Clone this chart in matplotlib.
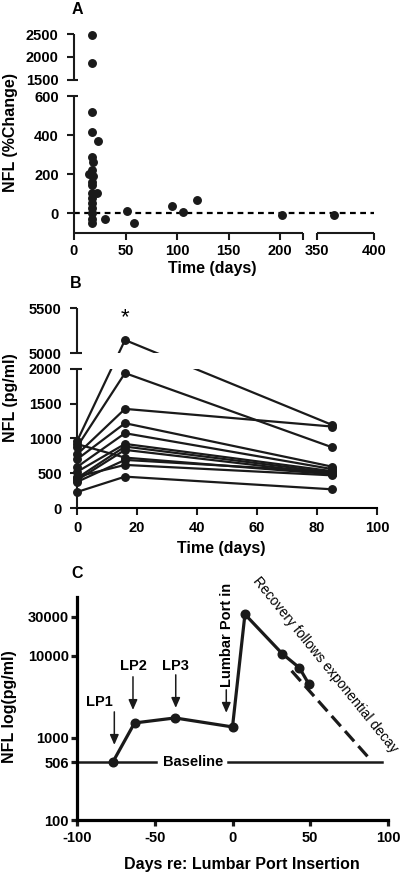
"""
NFL 패널 A/B/C 재현
"""
import numpy as np
import matplotlib
matplotlib.use('Agg')
import matplotlib.pyplot as plt
from matplotlib.ticker import NullLocator

plt.rcParams['font.family'] = ['Liberation Sans', 'DejaVu Sans']
plt.rcParams['font.weight'] = 'bold'
plt.rcParams['axes.labelweight'] = 'bold'
plt.rcParams['axes.unicode_minus'] = False

# ---- data ----
# A: % change vs time
days_a = [17, 17, 17, 17, 23, 17, 18, 17, 15, 18, 17, 17, 17, 22, 17, 17, 17, 17, 17, 17,
          30, 51, 58, 95, 106, 119, 202, 365]
pct_a = [2480, 1870, 518, 415, 369, 287, 262, 220, 200, 190, 160, 144, 103, 103, 77, 51, 26, 0, -26, -51,
         -26, 10, -51, 36, 5, 67, -10, -10]

# B: per-subject NFL at three visits
days_b = [0, 16, 85]
nfl_b = [
    [960, 5144, 1196],
    [880, 1941, 874],
    [770, 1426, 1172],
    [700, 1220, 595],
    [590, 1076, 560],
    [520, 922, 530],
    [430, 884, 509],
    [400, 836, 490],
    [920, 725, 485],
    [375, 692, 520],
    [450, 620, 470],
    [230, 451, 269],
]

# C: single case, log scale
days_c = [-77, -63, -37, 0, 8, 32, 43, 49]
nfl_c = [506, 1520, 1750, 1360, 32000, 10600, 7150, 4560]
decay_days = [38, 87]
decay_vals = [6560, 590]
baseline = 506
lp_labels = ['LP1', 'LP2', 'LP3']
lp_days = [-76, -64, -36.5, -4]
lp_top = [2075, 5550, 5860, 3850]
lp_bot = [822, 2190, 2320, 2020]

W, H = 400, 874
TICK_FS = 10.5


def box(x0, y0, x1, y1):
    return [x0 / W, 1 - y1 / H, (x1 - x0) / W, (y1 - y0) / H]


def ftext(x, y, s, **kw):
    fig.text(x / W, 1 - y / H, s, ha='center', va='center', **kw)


def brk(lo, hi, gap, r):
    def fwd(v):
        v = np.asarray(v, float)
        mid = lo + (v - lo) * gap / (hi - lo)
        return np.where(v <= lo, v, np.where(v >= hi, lo + gap + (v - hi) * r, mid))

    def inv(t):
        t = np.asarray(t, float)
        mid = lo + (t - lo) * (hi - lo) / gap
        return np.where(t <= lo, t, np.where(t >= lo + gap, hi + (t - lo - gap) / r, mid))
    return fwd, inv


fig = plt.figure(figsize=(W / 100, H / 100), dpi=100)

# ---------------- A ----------------
ax = fig.add_axes(box(74, 34, 374, 233))
ax.set_xscale('function', functions=brk(222, 350, 13.6, 1.107))
ax.set_yscale('function', functions=brk(600, 1500, 81.8, 0.235))
ax.set_xlim(0, 400)
ax.set_ylim(-100, 2500)
ax.axhline(0, color='k', lw=1.6, ls=(0, (2.6, 2.0)), zorder=1)
ax.plot(days_a, pct_a, 'o', color='#1a1a1a', ms=5.4, clip_on=False, zorder=3)
for s in ax.spines.values():
    s.set_visible(False)
yt = ax.get_yaxis_transform()
xt = ax.get_xaxis_transform()
kw = dict(color='#1a1a1a', lw=1.5, clip_on=False, solid_capstyle='butt', zorder=5)
ax.plot([0, 0], [-100, 600], transform=yt, **kw)
ax.plot([0, 0], [1500, 2500], transform=yt, **kw)
ax.plot([0, 0.014], [600, 600], transform=yt, **kw)
ax.plot([0, 0.014], [1500, 1500], transform=yt, **kw)
ax.plot([0, 222], [0, 0], transform=xt, **kw)
ax.plot([350, 400], [0, 0], transform=xt, **kw)
ax.set_xticks([0, 50, 100, 150, 200, 222, 350, 400],
              ['0', '50', '100', '150', '200', '', '350', '400'])
ax.set_yticks([0, 200, 400, 600, 1500, 2000, 2500])
ax.tick_params(direction='out', length=5, width=1.5, labelsize=TICK_FS, pad=3, color='#1a1a1a')
ax.tick_params(axis='y', pad=6)
ax.xaxis.set_minor_locator(NullLocator())
ax.yaxis.set_minor_locator(NullLocator())
ftext(77, 9, 'A', fontsize=11.5)
ftext(212, 269, 'Time (days)', fontsize=11.5)
ftext(11, 132, 'NFL (%Change)', fontsize=11.5, rotation=90)

# ---------------- B ----------------
ax = fig.add_axes(box(77, 308, 377, 508))
ax.set_yscale('function', functions=brk(2000, 5000, 230, 1.295))
ax.set_xlim(0, 100)
ax.set_ylim(0, 5500)
for row in nfl_b:
    ax.plot(days_b, row, '-o', color='#1a1a1a', lw=1.6, ms=5.4, clip_on=False, zorder=2)
ax.axhspan(2000, 5000, color='white', lw=0, zorder=3)
for s in ['left', 'top', 'right']:
    ax.spines[s].set_visible(False)
ax.spines['bottom'].set_linewidth(1.5)
yt = ax.get_yaxis_transform()
ax.plot([0, 0], [0, 2000], transform=yt, **kw)
ax.plot([0, 0], [5000, 5500], transform=yt, **kw)
ax.plot([0, 0.015], [2000, 2000], transform=yt, **kw)
ax.plot([0, 0.015], [5000, 5000], transform=yt, **kw)
ax.set_xticks([0, 20, 40, 60, 80, 100])
ax.set_yticks([0, 500, 1000, 1500, 2000, 5000, 5500])
ax.tick_params(direction='out', length=5, width=1.5, labelsize=TICK_FS, pad=4, color='#1a1a1a')
ax.tick_params(axis='y', pad=6)
ax.yaxis.set_minor_locator(NullLocator())
ftext(76, 283, 'B', fontsize=11.5)
ftext(221, 548, 'Time (days)', fontsize=11.5)
ftext(11, 398, 'NFL (pg/ml)', fontsize=11.5, rotation=90)
ftext(125, 318, '*', fontsize=16, fontweight='normal')

# ---------------- C ----------------
ax = fig.add_axes(box(77, 597, 388, 820))
ax.set_yscale('log')
ax.set_xlim(-100, 100)
ax.set_ylim(100, 52000)
ax.plot(days_c, nfl_c, '-o', color='#1a1a1a', lw=2.3, ms=6.2, zorder=3)
dl, = ax.plot(decay_days, decay_vals, color='#1a1a1a', lw=2.3, zorder=2)
dl.set_dashes((4.3, 2.0))
ax.plot([-100, -49], [baseline, baseline], color='#1a1a1a', lw=1.8, clip_on=False)
ax.plot([-3, 96], [baseline, baseline], color='#1a1a1a', lw=1.8)
ax.text(-25.5, baseline, 'Baseline', ha='center', va='center', fontsize=10.5)
for d, t, b in zip(lp_days, lp_top, lp_bot):
    ax.annotate('', xy=(d, b), xytext=(d, t),
                arrowprops=dict(arrowstyle='-|>,head_length=0.5,head_width=0.22',
                                color='#1a1a1a', lw=1.1, mutation_scale=12, shrinkA=0, shrinkB=0))
ax.text(-85.5, 2750, lp_labels[0], ha='center', va='center', fontsize=10.5)
ax.text(-64, 7550, lp_labels[1], ha='center', va='center', fontsize=10.5)
ax.text(-36.5, 7550, lp_labels[2], ha='center', va='center', fontsize=10.5)
ax.text(-3.5, 18000, 'Lumbar Port in', ha='center', va='center', fontsize=10.5, rotation=90)
for s in ['top', 'right']:
    ax.spines[s].set_visible(False)
for s in ['left', 'bottom']:
    ax.spines[s].set_linewidth(2.3)
ax.set_xticks([-100, -50, 0, 50, 100])
ax.set_yticks([100, 506, 1000, 10000, 30000], ['100', '506', '1000', '10000', '30000'])
ax.yaxis.set_minor_locator(NullLocator())
ax.tick_params(direction='out', length=4, width=2.3, labelsize=TICK_FS, pad=4, color='#1a1a1a')
ax.tick_params(axis='y', pad=2)
ftext(77, 573, 'C', fontsize=11.5)
ftext(242, 865, 'Days re: Lumbar Port Insertion', fontsize=11.5)
ftext(10, 707, 'NFL log(pg/ml)', fontsize=11.5, rotation=90)
ftext(325, 665, 'Recovery follows exponential decay', fontsize=10, fontweight='normal',
      rotation=-51, rotation_mode='anchor')

fig.savefig('out.png', dpi=100)
